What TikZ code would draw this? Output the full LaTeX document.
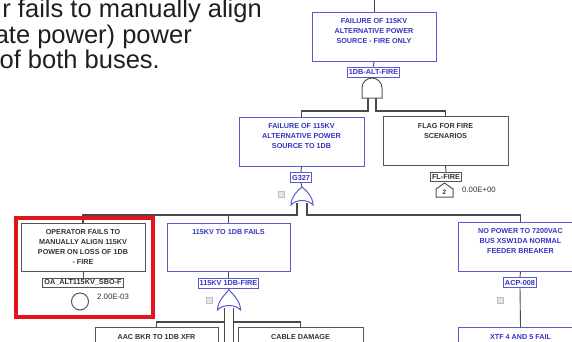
\documentclass[tikz,border=0pt]{standalone}
\usepackage{fontspec}
\setmainfont{Liberation Sans}
\definecolor{fblue}{HTML}{5A5AD2}
\definecolor{tblue}{HTML}{3535C0}
\definecolor{fgray}{HTML}{555555}
\definecolor{tgray}{HTML}{333333}
\definecolor{conn}{HTML}{4A4A4A}
\definecolor{hired}{HTML}{E3141B}
\definecolor{toptxt}{HTML}{1E1E1E}
\begin{document}
\begin{tikzpicture}[x=1pt,y=-1pt,
  toptext/.style={inner sep=0, text=toptxt, font=\fontsize{25.5}{26}\selectfont},
  bluebox/.style={draw=fblue, line width=1pt, fill=white, inner sep=0},
  graybox/.style={draw=fgray, line width=1pt, fill=white, inner sep=0},
  btext/.style={text=tblue, font=\fontsize{7.2}{10}\selectfont\bfseries, align=center, inner sep=0, anchor=north},
  gtext/.style={text=tgray, font=\fontsize{7.2}{10}\selectfont\bfseries, align=center, inner sep=0, anchor=north},
  blabel/.style={draw=fblue, line width=0.9pt, fill=white, text=tblue, font=\fontsize{7.3}{8}\selectfont\bfseries, inner sep=1.4pt, minimum height=10pt},
  glabel/.style={draw=fgray, line width=0.9pt, fill=white, text=tgray, font=\fontsize{7.3}{8}\selectfont\bfseries, inner sep=1.4pt, minimum height=9pt},
  wire/.style={draw=conn, line width=1.3pt},
  thinwire/.style={draw=conn, line width=0.9pt},
  bgate/.style={draw=fblue, line width=1pt, fill=white},
  ggate/.style={draw=fgray, line width=1pt, fill=white},
  sq/.style={draw=black!25, fill=black!10, line width=0.5pt, minimum size=6pt, inner sep=0},
  prob/.style={text=tgray, font=\fontsize{7.8}{8}\selectfont, inner sep=0, anchor=west}
]
\useasboundingbox (0,0) rectangle (572,341);

% presentation text
\node[toptext, anchor=base east] (t1) at (262,17) {r fails to manually align};
\node[toptext, anchor=base east] (t2) at (192,43) {ate power) power};
\node[toptext, anchor=base east] (t3) at (160,68) {of both buses.};

% gate reference coordinates
\coordinate (top) at (374,0);
\coordinate (g1) at (372,98);
\coordinate (g2) at (302,203);
\coordinate (g3) at (229,308);

% connectors
\draw[wire] ([xshift=-4pt]g1) -- ++(0,13) -| (301.5,117);
\draw[wire] ([xshift=4pt]g1) -- ++(0,13) -| (445.5,116);
\draw[wire] ([xshift=-5pt]g2) -- ++(0,12) -| (83,223);
\draw[wire] (228.5,223) -- ++(0,-8);
\draw[wire] ([xshift=5pt]g2) -- ++(0,12) -| (520.5,222);
\draw[wire] ([xshift=-4.5pt]g3) -- ++(0,40);
\draw[wire] ([xshift=4.5pt]g3) -- ++(0,40);
\draw[wire] ([xshift=-4.5pt,yshift=-14pt]g3) -| (156.5,327);
\draw[wire] ([xshift=4.5pt,yshift=-14pt]g3) -| (300.5,327);

% boxes
\node[bluebox, minimum width=124pt, minimum height=49pt] (b1) at (374,36.5) {};
\node[btext] (b1t) at ([yshift=-7pt]b1.north) {FAILURE OF 115KV\\ALTERNATIVE POWER\\SOURCE - FIRE ONLY};
\node[bluebox, minimum width=125pt, minimum height=49pt] (b2) at (301.5,141.5) {};
\node[btext] (b2t) at ([yshift=-7pt]b2.north) {FAILURE OF 115KV\\ALTERNATIVE POWER\\SOURCE TO 1DB};
\node[graybox, minimum width=125pt, minimum height=49pt] (b3) at (445.5,140.5) {};
\node[gtext] (b3t) at ([yshift=-8pt]b3.north) {FLAG FOR FIRE\\SCENARIOS};
\node[graybox, minimum width=124pt, minimum height=48pt] (b4) at (83,247) {};
\node[gtext] (b4t) at ([yshift=-7pt]b4.north) {OPERATOR FAILS TO\\MANUALLY ALIGN 115KV\\POWER ON LOSS OF 1DB\\- FIRE};
\node[bluebox, minimum width=123pt, minimum height=48pt] (b5) at (228.5,247) {};
\node[btext] (b5t) at ([yshift=-7pt]b5.north) {115KV TO 1DB FAILS};
\node[bluebox, minimum width=125pt, minimum height=49pt] (b6) at (520.5,246.5) {};
\node[btext] (b6t) at ([yshift=-7pt]b6.north) {NO POWER TO 7200VAC\\BUS XSW1DA NORMAL\\FEEDER BREAKER};
\node[graybox, minimum width=123pt, minimum height=49pt, anchor=north] (b7) at (156.5,327) {};
\node[gtext] (b7t) at ([yshift=-7pt]b7.north) {AAC BKR TO 1DB XFR};
\node[graybox, minimum width=125pt, minimum height=49pt, anchor=north] (b8) at (300.5,327) {};
\node[gtext] (b8t) at ([yshift=-7pt]b8.north) {CABLE DAMAGE};
\node[bluebox, minimum width=125pt, minimum height=49pt, anchor=north] (b9) at (520.5,327) {};
\node[btext] (b9t) at ([yshift=-7pt]b9.north) {XTF 4 AND 5 FAIL};

% labels
\node[blabel] (l1) at (373.5,72) {1DB-ALT-FIRE};
\node[blabel] (l2) at (301,177.5) {G327};
\node[glabel] (l3) at (446,177) {FL-FIRE};
\node[glabel] (l4) at (83,282.5) {OA\_ALT115KV\_SBO-F};
\node[blabel] (l5) at (228.5,283) {115KV 1DB-FIRE};
\node[blabel] (l6) at (520,282.5) {ACP-008};

% short links box -> label -> gate
\draw[thinwire] (top) -- (b1.north);
\draw[thinwire] (b1.south) -- (l1.north);
\draw[thinwire] (l1.south) -- (372,78);
\draw[thinwire] (b2.south) -- (l2.north);
\draw[thinwire] (l2.south) -- (302,187);
\draw[thinwire] (b3.south) -- (l3.north);
\draw[thinwire] (b4.south) -- (l4.north);
\draw[thinwire] (b5.south) -- (l5.north);
\draw[thinwire] (l5.south) -- (229,290);
\draw[thinwire] (b6.south) -- (l6.north);
\draw[thinwire] (l6.south) -- (b9.north);

% AND gate
\draw[ggate] (362,98) -- (362,88) arc[start angle=180, end angle=360, radius=10] -- (382,98) -- cycle;
% OR gate G327
\draw[bgate] (291,205) .. controls (291,197) and (297,191) .. (302,187)
  .. controls (307,191) and (313,197) .. (313,205)
  .. controls (308,199) and (296,199) .. cycle;
% OR gate 115KV 1DB-FIRE
\draw[bgate] (217.5,310) .. controls (217.5,302) and (224,295) .. (229,290)
  .. controls (234,295) and (240.5,302) .. (240.5,310)
  .. controls (235.5,304) and (222.5,304) .. cycle;
% house event
\draw[ggate] (436,197) -- (436,189) -- (444.5,183) -- (453,189) -- (453,197) -- cycle;
\node[text=tgray, font=\fontsize{6.5}{7}\selectfont\bfseries, inner sep=0] (h2) at (444.5,192) {2};
\node[prob] (p2) at (462,190) {0.00E+00};
% basic event
\node[draw=fgray, line width=1pt, circle, minimum size=17pt, inner sep=0] (c1) at (80,301.5) {};
\node[prob] (p1) at (97,297) {2.00E-03};

% small squares
\node[sq] (s1) at (281,194) {};
\node[sq] (s2) at (209,300) {};
\node[sq] (s3) at (500,300) {};

% highlight
\draw[draw=hired, line width=3.5pt] (16,218) rectangle (153,317);
\end{tikzpicture}
\end{document}
